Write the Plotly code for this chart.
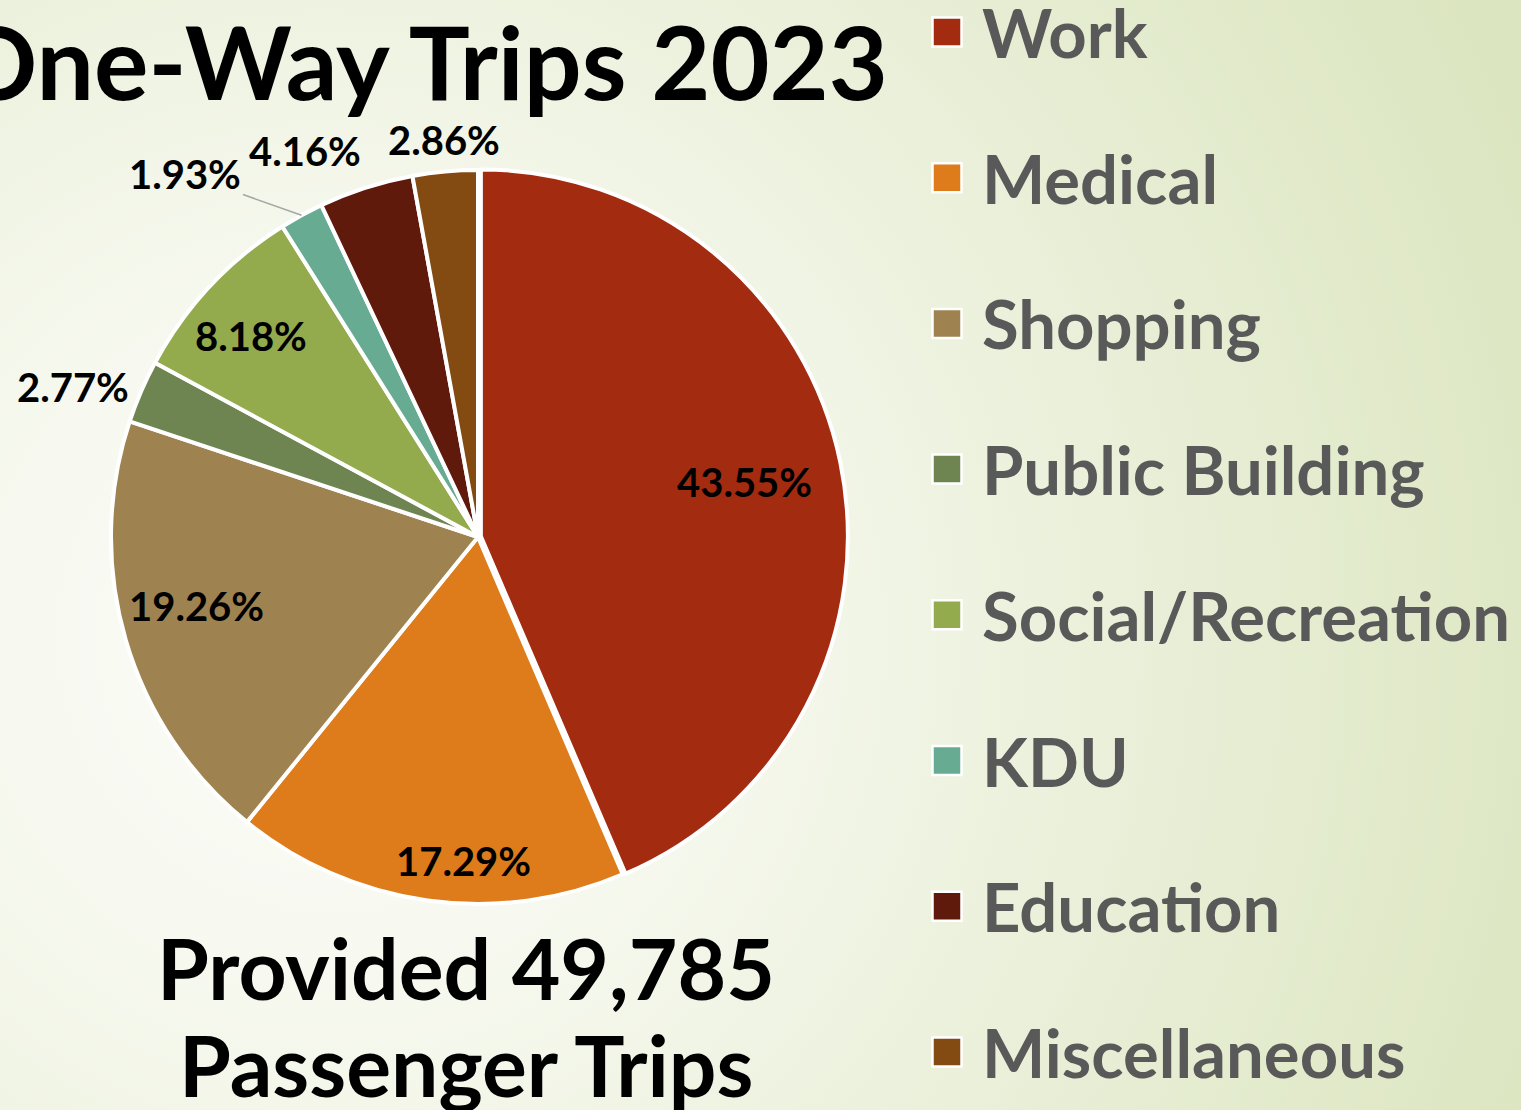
import base64
import math
import plotly.graph_objects as go

# Trip purposes for one-way trips in 2023 (share of all trips, %)
categories = ["Work", "Medical", "Shopping", "Public Building",
              "Social/Recreation", "KDU", "Education", "Miscellaneous"]
shares = [43.55, 17.29, 19.26, 2.77, 8.18, 1.93, 4.16, 2.86]
total_trips = "49,785"
title_text = "One-Way Trips 2023"

colors = ["#a32b10", "#de7c1b", "#9e8351", "#6f8551",
          "#93ab4d", "#67ab92", "#5f1a0c", "#834a12"]

W, H = 1521, 1110
FONT = "Lato"

# pie geometry in pixels
cx, cy, R = 478, 537, 367
pull_work = 0.008
half_box = R * (1 + pull_work)

# label placement: radius (fraction of R), outside flag, small pixel nudges
label_r = [0.74, 0.88, 0.79, 1.03, 0.82, 1.03, 1.03, 1.03]
label_out = [False, False, False, True, False, True, True, True]
label_nudge = {1: (30, 4), 2: (-3, -12), 4: (-7, 4), 7: (0, 5)}
leader_offset = {5: (-116, -41)}  # pixel offset for labels with a leader line


def px(x):
    return x / W


def py(y):
    return 1 - y / H


fig = go.Figure()
fig.add_trace(go.Pie(
    labels=categories,
    values=shares,
    sort=False,
    direction="clockwise",
    rotation=0,
    pull=[pull_work] + [0] * (len(shares) - 1),
    marker=dict(colors=colors, line=dict(color="white", width=4)),
    textinfo="none",
    hoverinfo="label+value",
    showlegend=False,
    domain=dict(x=[px(cx - half_box), px(cx + half_box)],
                y=[py(cy + half_box), py(cy - half_box)]),
))

annotations = []
total = sum(shares)
cum = 0.0
for i, v in enumerate(shares):
    mid = (cum + v / 2) / total * 2 * math.pi
    cum += v
    sx, sy = math.sin(mid), -math.cos(mid)
    text = f"<b>{v:.2f}%</b>"
    font = dict(family=FONT, size=40, color="black")
    if i in leader_offset:
        ex, ey = cx + sx * R, cy + sy * R
        ox, oy = leader_offset[i]
        annotations.append(dict(
            x=px(ex), y=py(ey), xref="paper", yref="paper", text=text,
            font=font, showarrow=True, arrowhead=0, arrowwidth=1.5,
            arrowcolor="#a6a6a6", ax=ox, ay=oy, standoff=0))
        continue
    r = label_r[i] * R
    nx, ny = label_nudge.get(i, (0, 0))
    lx, ly = cx + sx * r + nx, cy + sy * r + ny
    if label_out[i]:
        xa = "center" if abs(sx) < 0.2 else ("right" if sx < 0 else "left")
        ya = "bottom" if -sy > 0.7 else ("top" if -sy < -0.7 else "middle")
    else:
        xa, ya = "center", "middle"
    annotations.append(dict(
        x=px(lx), y=py(ly), xref="paper", yref="paper", text=text,
        font=font, showarrow=False, xanchor=xa, yanchor=ya))

# title, partly running off the left edge
annotations.append(dict(
    x=px(890), y=py(60), xref="paper", yref="paper",
    text=f"<b>{title_text}</b>", showarrow=False, xanchor="right",
    yanchor="middle", font=dict(family=FONT, size=102, color="black")))

# summary under the pie
annotations.append(dict(
    x=px(466), y=py(967), xref="paper", yref="paper",
    text=f"<b>Provided {total_trips}</b>", showarrow=False,
    xanchor="center", yanchor="middle",
    font=dict(family=FONT, size=84, color="black")))
annotations.append(dict(
    x=px(466), y=py(1064), xref="paper", yref="paper",
    text="<b>Passenger Trips</b>", showarrow=False,
    xanchor="center", yanchor="middle",
    font=dict(family=FONT, size=84, color="black")))

# legend: colour squares with category names
shapes = []
leg_x, leg_y0, leg_dy, sq = 947, 32, 145.7, 29
for i, name in enumerate(categories):
    yc = leg_y0 + i * leg_dy
    shapes.append(dict(
        type="rect", xref="paper", yref="paper",
        x0=px(leg_x - sq / 2), x1=px(leg_x + sq / 2),
        y0=py(yc + sq / 2), y1=py(yc - sq / 2),
        fillcolor=colors[i], line=dict(color="white", width=2.5)))
    annotations.append(dict(
        x=px(980), y=py(yc), xref="paper", yref="paper",
        text=f"<b>{name}</b>", showarrow=False, xanchor="left",
        yanchor="middle", font=dict(family=FONT, size=67, color="#595959")))

# soft radial background
svg = f'''<svg xmlns="http://www.w3.org/2000/svg" width="{W}" height="{H}" viewBox="0 0 {W} {H}" preserveAspectRatio="none">
<defs><radialGradient id="g" gradientUnits="userSpaceOnUse" cx="330" cy="640" r="1320">
<stop offset="0" stop-color="#fbfcf8"/><stop offset="0.25" stop-color="#f7f9f0"/>
<stop offset="1" stop-color="#dbe5bf"/></radialGradient></defs>
<rect width="{W}" height="{H}" fill="url(#g)"/></svg>'''
bg_src = "data:image/svg+xml;base64," + base64.b64encode(svg.encode()).decode()

fig.update_layout(
    width=W, height=H,
    margin=dict(l=0, r=0, t=0, b=0),
    paper_bgcolor="#eef3e1",
    plot_bgcolor="rgba(0,0,0,0)",
    annotations=annotations,
    shapes=shapes,
    images=[dict(source=bg_src, xref="paper", yref="paper", x=0, y=1,
                 sizex=1, sizey=1, xanchor="left", yanchor="top",
                 sizing="stretch", layer="below")],
)

fig.write_html("out.html")
